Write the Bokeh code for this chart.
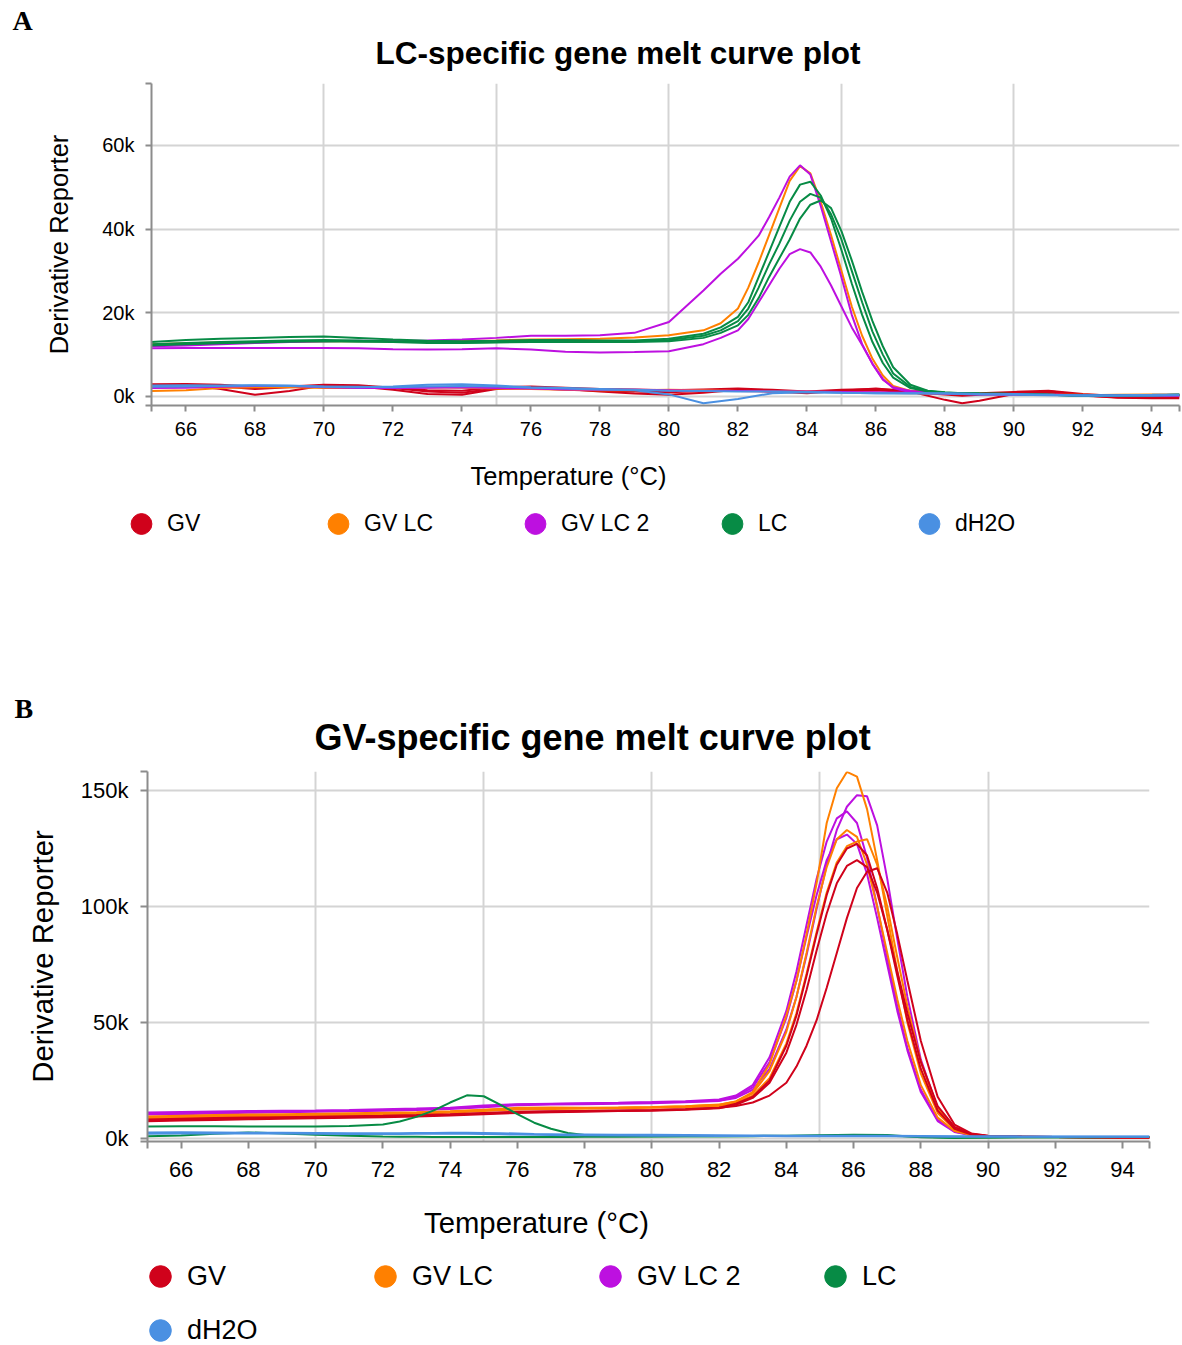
from bokeh.plotting import figure
from bokeh.models import (Range1d, FixedTicker, Legend, LegendItem, Label,
                          CustomJSTickFormatter)
from bokeh.embed import file_html
from bokeh.resources import INLINE

# ---------------------------------------------------------------- data
# Derivative reporter values are stored in thousands (axis shows "k").

groups = ["GV", "GV LC", "GV LC 2", "LC", "dH2O"]
group_colors = ["#d0021b", "#ff8000", "#bd10e0", "#078b45", "#4a90e2"]

x_ticks = [66, 68, 70, 72, 74, 76, 78, 80, 82, 84, 86, 88, 90, 92, 94]
x_grid = [70, 75, 80, 85, 90]

# Panel A: LC-specific gene
temp_a = [65, 66, 67, 68, 69, 70, 71, 72, 73, 74, 75, 76, 77, 78, 79, 80, 81,
          81.5, 82, 82.3, 82.6, 82.9, 83.2, 83.5, 83.8, 84.1, 84.4, 84.7, 85.0,
          85.3, 85.6, 85.9, 86.2, 86.5, 87, 87.5, 88, 88.5, 89, 90, 91, 92, 93,
          94, 94.8]
temp_a_base = [65, 66, 67, 68, 69, 70, 71, 72, 73, 74, 75, 76, 77, 78, 79, 80,
               81, 82, 83, 84, 85, 86, 87, 88, 88.5, 89, 90, 91, 92, 93, 94, 94.8]

a_gv_1 = [2.5, 2.8, 1.8, 0.4, 1.3, 2.6, 2.4, 1.6, 0.6, 0.4, 1.8, 2.2, 1.8, 1.2,
          0.7, 0.4, 0.9, 1.6, 1.2, 0.8, 1.4, 1.9, 1.2, -0.8, -1.6, -1.0, 0.6,
          1.3, 0.3, -0.3, -0.4, -0.4]
a_gv_2 = [2.9, 3.0, 2.8, 2.3, 2.4, 2.8, 2.7, 2.1, 1.5, 1.4, 2.2, 2.4, 2.1, 1.8,
          1.7, 1.5, 1.7, 1.9, 1.6, 1.2, 1.6, 1.8, 1.4, 0.9, 0.7, 0.8, 1.1, 1.4,
          0.6, 0.1, 0.0, 0.1]
a_gv_3 = [2.2, 2.6, 2.4, 1.8, 2.2, 2.5, 2.3, 2.0, 1.2, 0.9, 1.9, 2.0, 1.6, 1.4,
          1.2, 1.0, 1.3, 1.5, 1.2, 1.0, 1.3, 1.5, 1.0, 0.5, 0.2, 0.4, 0.9, 1.0,
          0.2, -0.2, -0.3, -0.2]
a_gvlc_1 = [12.5, 12.7, 12.9, 13.0, 13.1, 13.2, 13.2, 13.2, 13.2, 13.3, 13.4,
            13.6, 13.7, 13.8, 14.1, 14.6, 15.8, 17.5, 21.0, 26.0, 32.0, 38.5,
            45.0, 51.5, 55.0, 53.3, 46.5, 38.5, 30.0, 21.5, 14.5, 9.0, 5.0, 2.5,
            1.3, 1.0, 0.8, 0.7, 0.6, 0.5, 0.4, 0.4, 0.3, 0.3, 0.3]
a_gvlc_2 = [1.3, 1.5, 2.0, 2.2, 2.2, 2.0, 2.0, 2.1, 2.2, 2.1, 1.9, 1.8, 1.6,
            1.5, 1.5, 1.6, 1.5, 1.3, 1.2, 1.2, 1.0, 0.9, 0.8, 0.7, 0.6, 0.6,
            0.6, 0.4, 0.3, 0.4, 0.5, 0.5]
a_gvlc2_1 = [12.0, 12.2, 12.5, 12.8, 13.0, 13.2, 13.3, 13.3, 13.4, 13.6, 14.0,
             14.5, 14.5, 14.6, 15.2, 17.8, 25.3, 29.3, 32.9, 35.6, 38.4, 42.8,
             47.5, 52.5, 55.2, 53.0, 45.5, 37.0, 28.5, 19.5, 12.5, 7.8, 4.0,
             2.2, 1.3, 1.0, 0.8, 0.7, 0.6, 0.5, 0.4, 0.3, 0.3, 0.3, 0.3]
a_gvlc2_2 = [11.5, 11.6, 11.6, 11.6, 11.6, 11.6, 11.5, 11.3, 11.2, 11.3, 11.5,
             11.2, 10.7, 10.5, 10.6, 10.8, 12.5, 14.0, 15.8, 18.5, 22.5, 26.5,
             30.5, 34.0, 35.2, 34.4, 31.0, 26.5, 21.5, 16.5, 12.3, 7.8, 4.2,
             2.0, 1.0, 0.8, 0.7, 0.6, 0.5, 0.5, 0.4, 0.3, 0.3, 0.3, 0.3]
a_gvlc2_3 = [2.0, 2.1, 2.3, 2.5, 2.5, 2.2, 2.0, 2.0, 2.1, 2.2, 2.0, 1.9, 1.7,
             1.6, 1.6, 1.5, 1.4, 1.3, 1.2, 1.2, 1.1, 1.0, 0.9, 0.8, 0.7, 0.6,
             0.5, 0.4, 0.3, 0.3, 0.2, 0.2]
a_lc_1 = [13.0, 13.5, 13.8, 14.0, 14.2, 14.3, 14.0, 13.6, 13.3, 13.2, 13.3,
          13.5, 13.5, 13.4, 13.4, 13.8, 15.0, 16.5, 19.0, 22.5, 28.5, 34.5,
          40.5, 46.5, 50.6, 51.3, 48.0, 42.5, 35.0, 27.0, 19.5, 13.0, 8.0, 4.5,
          2.0, 1.2, 0.9, 0.8, 0.7, 0.6, 0.4, 0.2, 0.2, 0.3, 0.4]
a_lc_2 = [12.5, 12.8, 13.0, 13.2, 13.4, 13.5, 13.4, 13.2, 13.0, 12.9, 13.0,
          13.2, 13.2, 13.1, 13.2, 13.5, 14.5, 15.8, 18.0, 21.0, 26.0, 31.5,
          36.5, 42.0, 46.5, 48.4, 47.5, 43.5, 37.5, 30.0, 22.5, 15.5, 10.0,
          5.5, 2.3, 1.3, 0.9, 0.8, 0.7, 0.6, 0.4, 0.2, 0.2, 0.3, 0.4]
a_lc_3 = [12.2, 12.5, 12.7, 12.9, 13.1, 13.2, 13.1, 13.0, 12.8, 12.8, 12.9,
          13.0, 13.0, 13.0, 13.0, 13.2, 14.0, 15.2, 17.0, 19.5, 23.5, 28.5,
          33.0, 37.5, 42.5, 45.8, 46.8, 45.0, 39.5, 32.5, 25.0, 18.0, 12.0,
          7.0, 2.8, 1.4, 1.0, 0.8, 0.7, 0.6, 0.4, 0.2, 0.2, 0.3, 0.4]
a_dh2o_1 = [2.6, 2.7, 2.6, 2.7, 2.6, 2.3, 2.2, 2.4, 2.8, 2.9, 2.6, 2.2, 2.0,
            1.8, 1.6, 1.4, 1.3, 1.2, 1.2, 1.1, 0.9, 0.8, 0.8, 0.8, 0.7, 0.6,
            0.6, 0.4, 0.3, 0.3, 0.4, 0.5]
a_dh2o_2 = [2.3, 2.4, 2.5, 2.6, 2.5, 2.4, 2.3, 2.2, 2.4, 2.5, 2.4, 2.1, 1.9,
            1.7, 1.5, 0.5, -1.6, -0.6, 0.8, 1.0, 0.9, 0.8, 0.7, 0.7, 0.6, 0.5,
            0.4, 0.3, 0.2, 0.2, 0.2, 0.3]

# Panel B: GV-specific gene
temp_b = [65, 66, 67, 68, 69, 70, 71, 72, 73, 74, 75, 76, 77, 78, 79, 80, 81,
          82, 82.5, 83, 83.5, 84, 84.3, 84.6, 84.9, 85.2, 85.5, 85.8, 86.1,
          86.4, 86.7, 87.0, 87.3, 87.6, 88, 88.5, 89, 89.5, 90, 91, 92, 93, 94,
          94.8]
temp_b_base = [65, 66, 67, 68, 69, 70, 71, 72, 72.5, 73, 73.5, 74, 74.5, 75,
               75.5, 76, 76.5, 77, 77.5, 78, 79, 80, 81, 82, 83, 84, 85, 86,
               87, 88, 89, 90, 91, 92, 93, 94, 94.8]

b_gv_1 = [7.8, 8.1, 8.4, 8.7, 8.9, 9.1, 9.3, 9.5, 9.8, 10.2, 10.8, 11.3, 11.6,
          11.8, 12.0, 12.2, 12.6, 13.3, 15.0, 18.0, 25.0, 40.0, 53.0, 70.0,
          88.0, 105.0, 118.0, 125.0, 127.0, 122.0, 108.0, 90.0, 70.0, 51.0,
          30.0, 12.0, 4.2, 1.7, 1.0, 0.8, 0.6, 0.5, 0.4, 0.4]
b_gv_2 = [7.4, 7.7, 8.0, 8.3, 8.5, 8.7, 8.9, 9.2, 9.5, 9.9, 10.5, 11.0, 11.3,
          11.5, 11.8, 12.0, 12.4, 13.0, 14.5, 17.5, 24.0, 37.0, 49.0, 64.0,
          81.0, 97.0, 110.0, 117.5, 120.0, 117.0, 106.0, 90.0, 72.0, 54.0,
          33.0, 14.0, 5.0, 2.0, 1.1, 0.8, 0.6, 0.5, 0.4, 0.4]
b_gv_3 = [8.2, 8.5, 8.8, 9.0, 9.2, 9.4, 9.6, 9.8, 10.1, 10.5, 11.0, 11.5, 11.7,
          11.9, 12.1, 12.3, 12.6, 13.2, 14.0, 15.5, 18.5, 24.0, 31.0, 40.0,
          51.0, 65.0, 80.0, 95.0, 108.0, 115.0, 116.5, 106.0, 88.0, 68.0, 42.0,
          18.0, 6.0, 2.2, 1.2, 0.8, 0.6, 0.5, 0.4, 0.4]
b_gvlc_1 = [9.0, 9.3, 9.6, 9.9, 10.1, 10.3, 10.5, 10.8, 11.0, 11.5, 12.3, 13.2,
            13.4, 13.3, 13.4, 13.6, 13.9, 14.5, 16.0, 20.0, 32.0, 53.0, 68.0,
            88.0, 110.0, 136.0, 151.0, 158.0, 156.0, 142.0, 120.0, 96.0, 72.0,
            50.0, 28.0, 11.0, 4.0, 1.8, 1.0, 0.8, 0.6, 0.5, 0.4, 0.4]
b_gvlc_2 = [9.5, 9.8, 10.1, 10.3, 10.5, 10.7, 10.9, 11.1, 11.3, 11.7, 12.4,
            13.0, 13.1, 13.1, 13.3, 13.5, 13.9, 14.6, 16.0, 19.5, 29.0, 46.0,
            61.0, 80.0, 100.0, 117.0, 129.0, 133.0, 130.0, 118.0, 100.0, 80.0,
            60.0, 42.0, 23.0, 9.0, 3.2, 1.5, 1.0, 0.8, 0.6, 0.5, 0.4, 0.4]
b_gvlc_3 = [8.6, 8.9, 9.2, 9.5, 9.7, 9.9, 10.1, 10.4, 10.7, 11.1, 11.8, 12.5,
            12.7, 12.8, 13.0, 13.2, 13.5, 14.0, 15.5, 18.5, 26.0, 41.0, 54.0,
            71.0, 89.0, 106.0, 119.0, 126.0, 128.0, 129.0, 118.0, 100.0, 78.0,
            57.0, 33.0, 13.0, 4.5, 1.8, 1.0, 0.8, 0.6, 0.5, 0.4, 0.4]
b_gvlc2_1 = [10.8, 11.0, 11.2, 11.4, 11.6, 11.8, 12.0, 12.3, 12.6, 13.0, 13.8,
             14.6, 14.9, 15.1, 15.3, 15.5, 15.8, 16.3, 17.5, 21.0, 30.0, 47.0,
             61.0, 79.0, 99.0, 118.0, 133.0, 143.0, 148.0, 147.5, 135.0, 112.0,
             86.0, 61.0, 34.0, 13.0, 4.5, 1.8, 1.0, 0.8, 0.6, 0.5, 0.4, 0.4]
b_gvlc2_2 = [11.2, 11.4, 11.6, 11.8, 12.0, 12.1, 12.3, 12.6, 12.9, 13.3, 14.2,
             14.8, 15.0, 15.2, 15.4, 15.7, 16.1, 16.8, 18.5, 23.0, 35.0, 55.0,
             72.0, 92.0, 112.0, 128.0, 138.0, 141.0, 136.0, 121.0, 100.0, 78.0,
             57.0, 39.0, 21.0, 8.0, 3.0, 1.5, 1.0, 0.8, 0.6, 0.5, 0.4, 0.4]
b_gvlc2_3 = [10.3, 10.5, 10.8, 11.1, 11.3, 11.5, 11.7, 12.0, 12.3, 12.7, 13.5,
             14.3, 14.6, 14.8, 15.0, 15.2, 15.6, 16.2, 18.0, 22.0, 33.0, 52.0,
             68.0, 87.0, 105.0, 120.0, 129.0, 131.0, 127.0, 114.0, 95.0, 75.0,
             55.0, 38.0, 20.0, 7.5, 2.8, 1.4, 1.0, 0.8, 0.6, 0.5, 0.4, 0.4]
b_lc_1 = [5.2, 5.3, 5.3, 5.2, 5.2, 5.2, 5.4, 6.0, 7.3, 9.3, 12.0, 15.5, 18.6,
          18.2, 14.5, 10.5, 6.8, 4.2, 2.4, 1.5, 1.1, 1.0, 1.0, 1.0, 1.1, 1.2,
          1.4, 1.6, 1.5, 0.5, 0.2, 0.4, 0.5, 0.5, 0.5, 0.6, 0.6]
b_lc_2 = [1.0, 1.3, 2.0, 2.6, 2.2, 1.6, 1.2, 0.9, 0.8, 0.7, 0.6, 0.6, 0.6, 0.6,
          0.6, 0.6, 0.6, 0.6, 0.6, 0.7, 0.8, 0.9, 1.0, 1.0, 1.0, 1.1, 1.2, 1.3,
          1.2, 0.8, 0.4, 0.4, 0.5, 0.5, 0.5, 0.6, 0.6]
b_dh2o_1 = [2.6, 2.7, 2.6, 2.5, 2.5, 2.4, 2.3, 2.3, 2.3, 2.4, 2.4, 2.5, 2.5,
            2.4, 2.3, 2.1, 1.9, 1.8, 1.7, 1.7, 1.6, 1.6, 1.5, 1.4, 1.3, 1.2,
            1.2, 1.2, 1.2, 1.1, 1.0, 1.0, 0.9, 0.9, 0.9, 0.9, 0.9]
b_dh2o_2 = [2.0, 2.1, 2.1, 2.2, 2.1, 2.0, 1.9, 1.9, 1.9, 2.0, 2.0, 2.0, 2.0,
            1.9, 1.8, 1.7, 1.6, 1.5, 1.4, 1.4, 1.3, 1.2, 1.2, 1.1, 1.1, 1.0,
            1.0, 1.0, 1.0, 0.9, 0.8, 0.8, 0.8, 0.8, 0.8, 0.8, 0.8]

traces_a = [
    ("GV", temp_a_base, a_gv_1), ("GV", temp_a_base, a_gv_2),
    ("GV", temp_a_base, a_gv_3),
    ("GV LC", temp_a, a_gvlc_1), ("GV LC", temp_a_base, a_gvlc_2),
    ("GV LC 2", temp_a, a_gvlc2_1), ("GV LC 2", temp_a, a_gvlc2_2),
    ("GV LC 2", temp_a_base, a_gvlc2_3),
    ("LC", temp_a, a_lc_1), ("LC", temp_a, a_lc_2), ("LC", temp_a, a_lc_3),
    ("dH2O", temp_a_base, a_dh2o_1), ("dH2O", temp_a_base, a_dh2o_2),
]
traces_b = [
    ("GV LC 2", temp_b, b_gvlc2_1), ("GV LC 2", temp_b, b_gvlc2_2),
    ("GV LC 2", temp_b, b_gvlc2_3),
    ("GV LC", temp_b, b_gvlc_1), ("GV LC", temp_b, b_gvlc_2),
    ("GV LC", temp_b, b_gvlc_3),
    ("GV", temp_b, b_gv_1), ("GV", temp_b, b_gv_2), ("GV", temp_b, b_gv_3),
    ("LC", temp_b_base, b_lc_1), ("LC", temp_b_base, b_lc_2),
    ("dH2O", temp_b_base, b_dh2o_1), ("dH2O", temp_b_base, b_dh2o_2),
]

FONT = "Liberation Sans"
SERIF = "Liberation Serif"
AXIS_GREY = "#8c8c8c"
GRID_GREY = "#d4d4d4"
PAGE_W = 1182

# The page is a vertical stack of strips: text strips hold titles, axis
# titles and legends; plot strips hold the two melt-curve charts.
#   strip      top   height
#   head_a       0     76
#   plot_a      76    374
#   mid_ab     450    312
#   plot_b     762    430
#   foot_b    1192    153


def text_strip(height):
    f = figure(width=PAGE_W, height=height, output_backend="svg",
               toolbar_location=None, title=None,
               x_range=Range1d(0, PAGE_W), y_range=Range1d(0, height),
               x_axis_location=None, y_axis_location=None, min_border=0)
    f.outline_line_color = None
    f.grid.visible = False
    return f


def put_text(f, strip_top, strip_h, x, y_page, text, size, font=FONT,
             bold=False, align="left"):
    f.add_layout(Label(x=x, y=strip_top + strip_h - y_page,
                       x_units="screen", y_units="screen", text=text,
                       text_font=font, text_font_size=size,
                       text_font_style="bold" if bold else "normal",
                       text_align=align, text_baseline="middle",
                       text_color="#000000"))


def put_legend(f, strip_top, strip_h, left, top, glyph_w, glyph_h,
               label_width, size, ncols):
    items = []
    for name, col in zip(groups, group_colors):
        # one off-canvas point per group: the legend swatch needs a
        # non-empty renderer, the point itself lies outside the strip
        r = f.scatter(x=[-50], y=[-50], marker="circle", size=10,
                      fill_color=col, line_color=col)
        items.append(LegendItem(label=name, renderers=[r]))
    nrows = -(-len(groups) // ncols)
    bottom_page = top + nrows * glyph_h
    legend = Legend(items=items,
                    location=(left, strip_top + strip_h - bottom_page),
                    orientation="horizontal", ncols=ncols,
                    glyph_width=glyph_w, glyph_height=glyph_h,
                    label_width=label_width, label_standoff=0, spacing=0,
                    padding=0, margin=0, border_line_color=None,
                    background_fill_alpha=0, label_text_font=FONT,
                    label_text_font_size=size, label_text_color="#000000")
    f.add_layout(legend, "center")


def melt_panel(cfg):
    h = cfg["height"]
    top_page = cfg["top"]
    left, right, f_top, f_bottom = cfg["frame"]
    x_lo, x_hi = 65, 94.8
    y_lo, y_hi = cfg["y_range"]
    p = figure(width=PAGE_W, height=h, output_backend="svg",
               toolbar_location=None, title=None,
               x_range=Range1d(x_lo, x_hi), y_range=Range1d(y_lo, y_hi),
               min_border_left=left, min_border_right=PAGE_W - right,
               min_border_top=f_top - top_page,
               min_border_bottom=top_page + h - f_bottom)
    p.outline_line_color = None

    # axes with outer ticks at both ends of each domain
    xa = p.xaxis[0]
    xa.ticker = FixedTicker(ticks=[x_lo] + x_ticks + [x_hi])
    xa.formatter = CustomJSTickFormatter(
        args=dict(lo=x_lo, hi=x_hi),
        code="return (tick <= lo + 1e-6 || tick >= hi - 1e-6) ? '' : tick.toFixed(0);")
    ya = p.yaxis[0]
    ya.ticker = FixedTicker(ticks=[y_lo] + cfg["y_ticks"] + [y_hi])
    ya.formatter = CustomJSTickFormatter(
        args=dict(lo=y_lo, hi=y_hi),
        code="return (tick <= lo + 1e-6 || tick >= hi - 1e-6) ? '' : tick.toFixed(0) + 'k';")
    ya.axis_label = "Derivative Reporter"
    ya.axis_label_text_font = FONT
    ya.axis_label_text_font_size = cfg["axis_label_size"]
    ya.axis_label_text_font_style = "normal"
    ya.axis_label_text_color = "#000000"
    ya.axis_label_standoff = cfg["ylabel_standoff"]
    for ax in (xa, ya):
        ax.axis_line_color = AXIS_GREY
        ax.axis_line_width = 2
        ax.major_tick_line_color = AXIS_GREY
        ax.major_tick_line_width = 2
        ax.major_tick_in = 0
        ax.major_tick_out = cfg["tick_out"]
        ax.minor_tick_line_color = None
        ax.major_label_text_font = FONT
        ax.major_label_text_font_size = cfg["tick_size"]
        ax.major_label_text_color = "#000000"
    xa.major_label_standoff = cfg["xtick_standoff"]
    ya.major_label_standoff = cfg["ytick_standoff"]

    p.xgrid.ticker = FixedTicker(ticks=x_grid)
    p.ygrid.ticker = FixedTicker(ticks=cfg["y_ticks"])
    for g in (p.xgrid, p.ygrid):
        g.grid_line_color = GRID_GREY
        g.grid_line_width = 2

    color_of = dict(zip(groups, group_colors))
    for name, temps, vals in cfg["traces"]:
        p.line(temps, vals, line_color=color_of[name], line_width=2)
    return p


# --- strip 1: panel letter A and the LC title
head_a = text_strip(76)
put_text(head_a, 0, 76, 12, 20, "A", "28px", font=SERIF, bold=True)
put_text(head_a, 0, 76, 375, 52, "LC-specific gene melt curve plot", "31.5px",
         bold=True)

# --- strip 2: LC-specific melt curves
plot_a = melt_panel(dict(
    top=76, height=374, frame=(151, 1179, 83, 405), y_range=(-2.15, 74.75),
    y_ticks=[0, 20, 40, 60], traces=traces_a,
    axis_label_size="25.5px", tick_size="20px", tick_out=6,
    xtick_standoff=10, ytick_standoff=11, ylabel_standoff=26,
))

# --- strip 3: x title and legend of A, letter B and the GV title
mid_ab = text_strip(312)
put_text(mid_ab, 450, 312, 568, 475, "Temperature (°C)", "25.5px",
         align="center")
put_legend(mid_ab, 450, 312, left=115, top=495.5, glyph_w=52, glyph_h=55,
           label_width=145, size="23px", ncols=5)
put_text(mid_ab, 450, 312, 14, 708, "B", "28px", font=SERIF, bold=True)
put_text(mid_ab, 450, 312, 314, 737, "GV-specific gene melt curve plot",
         "36px", bold=True)

# --- strip 4: GV-specific melt curves
plot_b = melt_panel(dict(
    top=762, height=430, frame=(147, 1149, 771, 1141), y_range=(-1.3, 158.2),
    y_ticks=[0, 50, 100, 150], traces=traces_b,
    axis_label_size="29.3px", tick_size="22px", tick_out=7,
    xtick_standoff=13, ytick_standoff=12, ylabel_standoff=19,
))

# --- strip 5: x title and legend of B
foot_b = text_strip(153)
put_text(foot_b, 1192, 153, 536, 1222, "Temperature (°C)", "29.3px",
         align="center")
put_legend(foot_b, 1192, 153, left=133, top=1249, glyph_w=54, glyph_h=54,
           label_width=171, size="27px", ncols=4)

open("out.html", "w").write(
    file_html([head_a, plot_a, mid_ab, plot_b, foot_b], INLINE))
